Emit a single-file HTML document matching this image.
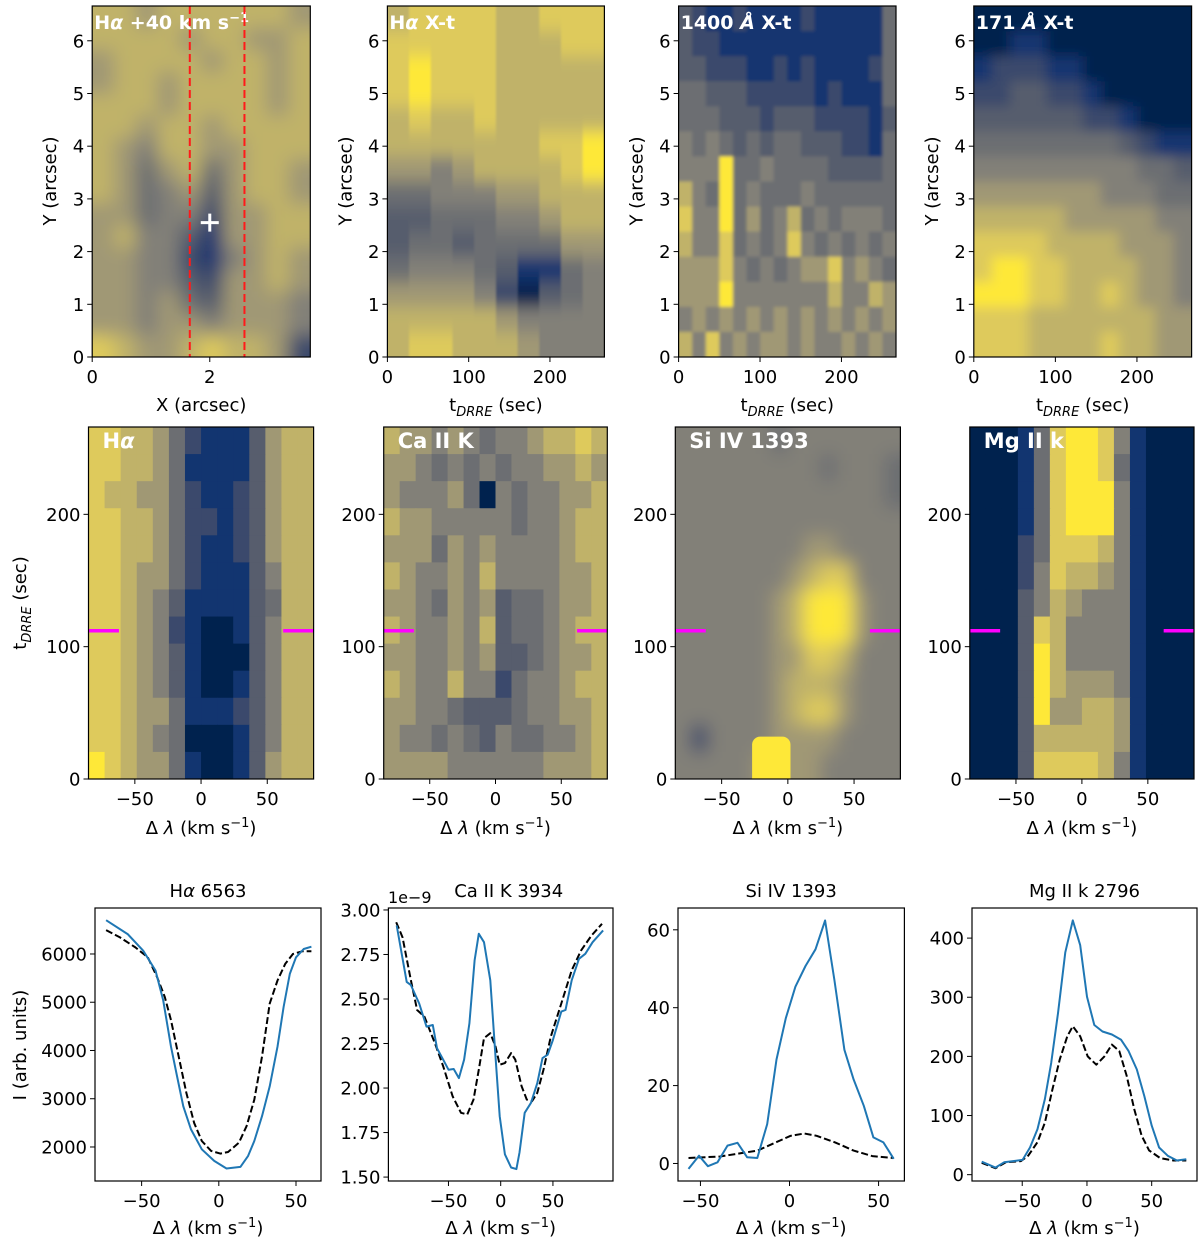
<!DOCTYPE html>
<html><head><meta charset="utf-8">
<style>
html,body{margin:0;padding:0;background:#fff;}
svg{display:block;font-family:"DejaVu Sans","Liberation Sans",sans-serif;}
</style></head>
<body>
<svg id="fig" width="1200" height="1245" viewBox="0 0 1200 1245" xmlns="http://www.w3.org/2000/svg">
<defs>
<filter id="blurS" x="-10%" y="-10%" width="120%" height="120%"><feGaussianBlur stdDeviation="9"/></filter>
<filter id="blurM" x="-10%" y="-10%" width="120%" height="120%"><feGaussianBlur stdDeviation="6"/></filter>
<filter id="blurV" x="-10%" y="-10%" width="120%" height="120%"><feGaussianBlur stdDeviation="1 8"/></filter>
<filter id="blurT" x="-10%" y="-10%" width="120%" height="120%"><feGaussianBlur stdDeviation="1.5"/></filter>
</defs>
</svg>
<script>
// ---------- colormap (cividis, digits 0-9) ----------
const cmapStops = [[0,34,78],[18,53,112],[59,73,108],[87,93,109],[108,110,114],[130,128,120],[160,152,116],[192,178,105],[222,202,92],[254,232,56]];

// ---------- heatmap data (rows top->bottom, digit per cell) ----------
const haImage = ["7767777776","7777677667","6777767767","6776777767","7776777767","7767767777","7657766777","7646746776","7645636776","6645526677","6755316677","6655215676","6655326676","6656436665","6656656665","8766787762"];
const haXt = ["7888877888","8888877788","8988877777","8988877777","7877877777","7777777889","6656777789","4455566777","3344455677","3443444466","4555431145","6666520345","7777765555","7887776555"];
const si1400Xt = ["3211211112111114","3221111111111114","3322211212111124","4433322222121114","4443332333222213","5454343443332214","5559445444433334","7549454445444444","8559464574545554","7558454585454545","6668545456685654","6669555555575576","5656565656565656","7585656656556565"];
const aia171Xt = ["000000000000","001100000000","122211000000","223322100000","333333221000","444444443211","555555555443","666666655544","777776666655","888877776665","899887777665","999887787665","888777777766","888777787766"];
const haSpec = ["88776421113677","88776411113677","87766421123677","88776422123677","88776421123677","88766421113577","88765311113477","88765210013577","88765310003577","88765310013577","88766411123577","88765400013577","98766410013677"];
const caSpec = ["76656545567787","66545454556676","65556405455667","76655555455677","66646565555677","76556575555667","66546563445667","76556573445677","66556563345667","76557552455677","66554333455667","65545435445567","66665555556667"];
const siSpec = ["55555545555555","55555555545554","55555555555554","55555555555555","55555555665555","55555556788555","55555567999655","55555567999655","55555566887555","55555567776555","55555567886555","52555566665555","55555666655555"];
const siBurst = [-27, 2, 32];
const mgSpec = ["00014899851000","00014899841000","00014899951000","00014899951000","00024888751000","00025877651000","00035765551000","00038755551000","00039755551000","00039766651000","00039667761000","00037777761000","00038888751000"];
const markerTime = [112];
const slitX = [1.66, 2.59];
const crossPos = [2.0, 2.55];

// ---------- line profile data ----------
const haObsX = [-73,-59,-49,-41,-36,-31,-27,-23,-18,-11,-3,5,14,19,23,28,33,38,42,46,50,55,60];
const haObsY = [6700,6412,6069,5657,5040,4079,3461,2844,2364,1952,1712,1554,1588,1815,2124,2638,3256,4079,4902,5588,5931,6103,6150];
const haRefX = [-73,-64,-54,-46,-40,-35,-31,-26,-21,-16,-11,-5,1,6,13,18,23,28,33,38,43,48,54,60];
const haRefY = [6494,6343,6137,5931,5520,5108,4628,3873,3118,2501,2124,1918,1863,1897,2089,2432,2981,3873,4971,5451,5794,6000,6055,6055];
const caObsX = [-99.6,-90,-86,-78,-71,-65,-61,-55,-50,-45,-40,-35,-30,-25,-21,-16,-10,-5,-1,4,10,15,18,23,29,35,40,45,50,58,62,68,75,81,88,98];
const caObsY = [2.913,2.596,2.578,2.475,2.345,2.354,2.224,2.159,2.103,2.107,2.056,2.159,2.363,2.717,2.866,2.819,2.605,2.177,1.842,1.628,1.554,1.545,1.638,1.861,1.917,2.028,2.168,2.187,2.270,2.429,2.438,2.605,2.726,2.754,2.819,2.885];
const caRefX = [-100,-94,-86,-80,-73,-63,-55,-46,-38,-32,-26,-21,-16,-10,-5,-1,4,10,14,20,25,30,35,41,48,58,68,77,87,97];
const caRefY = [2.931,2.847,2.605,2.438,2.401,2.252,2.122,1.954,1.861,1.852,1.935,2.103,2.280,2.308,2.233,2.131,2.140,2.196,2.159,2.010,1.935,1.926,1.973,2.103,2.289,2.475,2.661,2.773,2.857,2.922];
const siObsX = [-56.7,-50.8,-45.8,-40.4,-34.8,-29.2,-23.8,-18.1,-12.5,-7.3,-2.1,3.3,9,14.6,20,25.2,30.8,36,41.7,47.1,52.7,58.5];
const siObsY = [-1.4,2.0,-0.7,0.3,4.6,5.3,1.6,1.4,10.1,26.7,37.3,45.4,50.7,55,62.4,47.1,29.2,21.6,14.8,6.7,5.4,1.2];
const siRefX = [-56.7,-39,-18,-7.7,0.6,8.3,15.2,25.6,36,46.5,58.5];
const siRefY = [1.4,1.8,3.3,5.4,7.1,7.7,7.1,5.4,3.3,1.9,1.4];
const mgObsX = [-81.3,-70.7,-64,-49.7,-44,-38.2,-32.5,-27.6,-22.4,-16.7,-10.9,-5.2,0,5.7,12,19.3,26.4,32.2,38.5,44.3,50,55.7,62.4,69.5,76.7];
const mgObsY = [22,12,21,25,46,77,128,189,273,376,430,388,301,253,242,237,228,209,178,133,83,46,32,24,26];
const mgRefX = [-81.3,-70.7,-62.6,-51,-45.4,-38.2,-32.5,-26.7,-21,-15.2,-10.9,-5.2,0.6,7.2,13.5,19.3,25,30.7,36.5,42.2,48,56.6,66.7,76.7];
const mgRefY = [20,11,21,23,32,55,88,144,195,234,251,234,200,186,200,220,209,167,111,66,41,28,24,24];

// ---------- tick labels ----------
const yTicksArcsec = [0,1,2,3,4,5,6];
const xTicksArcsec = [0,2];
const xTicksTime = [0,100,200];
const yTicksTime = [0,100,200];
const xTicksVel = [-50,0,50];
const yTicksHa = [2000,3000,4000,5000,6000];
const yTicksCa = [1.50,1.75,2.00,2.25,2.50,2.75,3.00];
const yTicksSi = [0,20,40,60];
const yTicksMg = [0,100,200,300,400];

// ---------- helpers ----------
const NS = "http://www.w3.org/2000/svg";
const svg = document.getElementById('fig');
function mk(tag, attrs, parent){
  const e = document.createElementNS(NS, tag);
  for (const k in attrs) e.setAttribute(k, attrs[k]);
  (parent||svg).appendChild(e);
  return e;
}
function col(d){ const c = cmapStops[d]; return `rgb(${c[0]},${c[1]},${c[2]})`; }
let clipN = 0;
function makeAxes(x0,y0,x1,y1,xlim,ylim){
  return {x0,y0,x1,y1,
    sx: v => x0 + (v-xlim[0])/(xlim[1]-xlim[0])*(x1-x0),
    sy: v => y1 - (v-ylim[0])/(ylim[1]-ylim[0])*(y1-y0)};
}
function clipFor(ax){
  const id = 'clip'+(clipN++);
  const cp = mk('clipPath',{id}, svg.querySelector('defs'));
  mk('rect',{x:ax.x0,y:ax.y0,width:ax.x1-ax.x0,height:ax.y1-ax.y0},cp);
  return id;
}
function heatmap(ax, grid, filter, name){
  const g = mk('g',{'clip-path':`url(#${clipFor(ax)})`});
  
  
  const inner = mk('g', filter ? {filter:`url(#${filter})`} : {}, g);
  const nr = grid.length, nc = grid[0].length;
  const cw = (ax.x1-ax.x0)/nc, ch = (ax.y1-ax.y0)/nr;
  const pad = filter ? 25 : 0;
  for (let r=0;r<nr;r++) for (let c=0;c<nc;c++){
    let x = ax.x0 + c*cw, y = ax.y0 + r*ch, w = cw+0.6, h = ch+0.6;
    if (c===0){x-=pad; w+=pad;} if (c===nc-1) w+=pad;
    if (r===0){y-=pad; h+=pad;} if (r===nr-1) h+=pad;
    const rc = mk('rect',{x,y,width:w,height:h,fill:col(+grid[r][c])},inner);
    
    
  }
  return g;
}
function frame(ax,name){
  const f = mk('rect',{x:ax.x0,y:ax.y0,width:ax.x1-ax.x0,height:ax.y1-ax.y0,fill:'none',stroke:'#000','stroke-width':1.2});
  
  
}
function xticks(ax, vals, fmt, name){
  const g = mk('g',{});
  
  
  vals.forEach(v=>{
    const x = ax.sx(v);
    mk('line',{x1:x,x2:x,y1:ax.y1,y2:ax.y1+5,stroke:'#000','stroke-width':1},g);
    const t = mk('text',{x:x,y:ax.y1+26,'font-size':18,'text-anchor':'middle',fill:'#000'},g);
    t.textContent = fmt ? fmt(v) : String(v).replace('-','\u2212');
  });
}
function yticks(ax, vals, fmt, name){
  const g = mk('g',{});
  
  
  vals.forEach(v=>{
    const y = ax.sy(v);
    mk('line',{x1:ax.x0-5,x2:ax.x0,y1:y,y2:y,stroke:'#000','stroke-width':1},g);
    const t = mk('text',{x:ax.x0-8,y:y+6.5,'font-size':18,'text-anchor':'end',fill:'#000'},g);
    t.textContent = fmt ? fmt(v) : String(v);
  });
}
function label(x,y,html,name,opts){
  const t = mk('text',Object.assign({x,y,'font-size':18,'text-anchor':'middle',fill:'#000'},opts||{}));
  t.innerHTML = html;
  
  
  return t;
}
function line(ax, xs, ys, dashed, name){
  const d = xs.map((x,i)=>(i?'L':'M')+ax.sx(x).toFixed(1)+','+ax.sy(ys[i]).toFixed(1)).join('');
  const p = mk('path',{d,fill:'none',stroke:dashed?'#000':'#1f77b4','stroke-width':2,'stroke-dasharray':dashed?'7,3':'none','stroke-linejoin':'round','clip-path':`url(#${clipFor(ax)})`});
  
  
}
const DL = 'Δ <tspan font-style="italic">λ</tspan> (km s<tspan dy="-7" font-size="13">−1</tspan><tspan dy="7">)</tspan>';
const TD = 't<tspan dy="5" font-size="13" font-style="italic">DRRE</tspan><tspan dy="-5"> (sec)</tspan>';

// ---------- Row 1 ----------
const row1 = [[92.2,310.3,[0,3.71],haImage,'blurS','ha-image'],[387.4,604.4,[0,267],haXt,'blurV','ha-xt'],[678.6,896,[0,267],si1400Xt,'blurT','si1400-xt'],[973.8,1191.6,[0,267],aia171Xt,'blurM','aia171-xt']];
const row1Titles = ['Hα +40 km s<tspan dy="-7" font-size="13">−1</tspan>','Hα X-t','1400 <tspan font-style="italic">Å</tspan> X-t','171 <tspan font-style="italic">Å</tspan> X-t'];
row1.forEach((p,i)=>{
  const ax = makeAxes(p[0],6,p[1],357,p[2],[0,6.66]);
  heatmap(ax,p[3],p[4],p[5]+'-heatmap');
  label(ax.x0+2,29,row1Titles[i].replace('Hα','H<tspan font-style="italic">α</tspan>'),p[5]+'-title',{'text-anchor':'start',fill:'#fff','font-weight':'bold','font-size':19});
  if (i===0){
    slitX.forEach((sx,k)=>{
      const l = mk('line',{x1:ax.sx(sx),x2:ax.sx(sx),y1:6,y2:357,stroke:'#ff1a1a','stroke-width':2,'stroke-dasharray':'8,4'});
      
      
    });
    const cx = ax.sx(crossPos[0]), cy = ax.sy(crossPos[1]);
    const g = mk('g',{stroke:'#fff','stroke-width':3});
    
    
    mk('line',{x1:cx-9,x2:cx+9,y1:cy,y2:cy},g); mk('line',{x1:cx,x2:cx,y1:cy-9,y2:cy+9},g);
    xticks(ax,xTicksArcsec,null,'x-ticks-ha-image');
    label((ax.x0+ax.x1)/2,411,'X (arcsec)','x-axis-title-ha-image');
  } else {
    xticks(ax,xTicksTime,null,'x-ticks-'+p[5]);
    label((ax.x0+ax.x1)/2,411,TD,'x-axis-title-'+p[5]);
  }
  frame(ax,p[5]+'-frame');
  yticks(ax,yTicksArcsec,null,'y-ticks-'+p[5]);
  label(ax.x0-36,181,'Y (arcsec)','y-axis-title-'+p[5],{transform:`rotate(-90 ${ax.x0-36} 181)`});
});

// ---------- Row 2 ----------
const row2 = [[88.5,313.6,haSpec,null,'ha-spectrum','Hα'],[383.7,607.3,caSpec,null,'ca-spectrum','Ca II K'],[675.3,900.4,siSpec,'blurS','si-spectrum','Si IV 1393'],[969.8,1194,mgSpec,null,'mg-spectrum','Mg II k']];
row2.forEach((p,i)=>{
  const ax = makeAxes(p[0],427,p[1],779,[-85,85],[0,266]);
  heatmap(ax,p[2],p[3],p[4]+'-heatmap');
  if (i===2){
    const b = mk('rect',{x:ax.sx(siBurst[0]),y:ax.sy(siBurst[2]),width:ax.sx(siBurst[1])-ax.sx(siBurst[0]),height:ax.sy(0)-ax.sy(siBurst[2])+10,rx:8,fill:col(9),'clip-path':`url(#${clipFor(ax)})`});
    
    
  }
  markerTime.forEach(t=>{
    [[-85,-62],[62,85]].forEach((r,k)=>{
      const m = mk('line',{x1:ax.sx(r[0]),x2:ax.sx(r[1]),y1:ax.sy(t),y2:ax.sy(t),stroke:'#ff00ff','stroke-width':3.5});
      
      
    });
  });
  label(ax.x0+14,448,p[5].replace('Hα','H<tspan font-style="italic">α</tspan>'),p[4]+'-title',{'text-anchor':'start',fill:'#fff','font-weight':'bold','font-size':21});
  frame(ax,p[4]+'-frame');
  xticks(ax,xTicksVel,null,'x-ticks-'+p[4]);
  yticks(ax,yTicksTime,null,'y-ticks-'+p[4]);
  label((ax.x0+ax.x1)/2,834,DL,'x-axis-title-'+p[4]);
  if (i===0) label(26,603,TD,'y-axis-title-time',{transform:'rotate(-90 26 603)'});
});

// ---------- Row 3 ----------
const row3 = [
  [95,321,[-80.2,66.2],[1295,6953],haObsX,haObsY,haRefX,haRefY,yTicksHa,null,'ha-profile','H<tspan font-style="italic">α</tspan> 6563'],
  [388.4,613,[-107.5,107.5],[1.478,3.011],caObsX,caObsY,caRefX,caRefY,yTicksCa,v=>v.toFixed(2),'ca-profile','Ca II K 3934'],
  [678,904.4,[-62.6,64.5],[-4.5,65.6],siObsX,siObsY,siRefX,siRefY,yTicksSi,null,'si-profile','Si IV 1393'],
  [972,1197,[-88.8,85],[-10.7,450.9],mgObsX,mgObsY,mgRefX,mgRefY,yTicksMg,null,'mg-profile','Mg II k 2796']];
row3.forEach((p,i)=>{
  const ax = makeAxes(p[0],908,p[1],1181,p[2],p[3]);
  line(ax,p[6],p[7],true,p[10]+'-reference-line');
  line(ax,p[4],p[5],false,p[10]+'-observed-line');
  frame(ax,p[10]+'-frame');
  xticks(ax,xTicksVel,null,'x-ticks-'+p[10]);
  yticks(ax,p[8],p[9],'y-ticks-'+p[10]);
  label((ax.x0+ax.x1)/2,1234,DL,'x-axis-title-'+p[10]);
  label(i===1?(ax.x0+ax.x1)/2+8:(ax.x0+ax.x1)/2,897,p[11],p[10]+'-title');
  if (i===1) label(388,903,'1e−9','ca-offset-label',{'text-anchor':'start','font-size':16});
});
label(26,1045,'I (arb. units)','y-axis-title-intensity',{transform:'rotate(-90 26 1045)'});
</script>
</body></html>
